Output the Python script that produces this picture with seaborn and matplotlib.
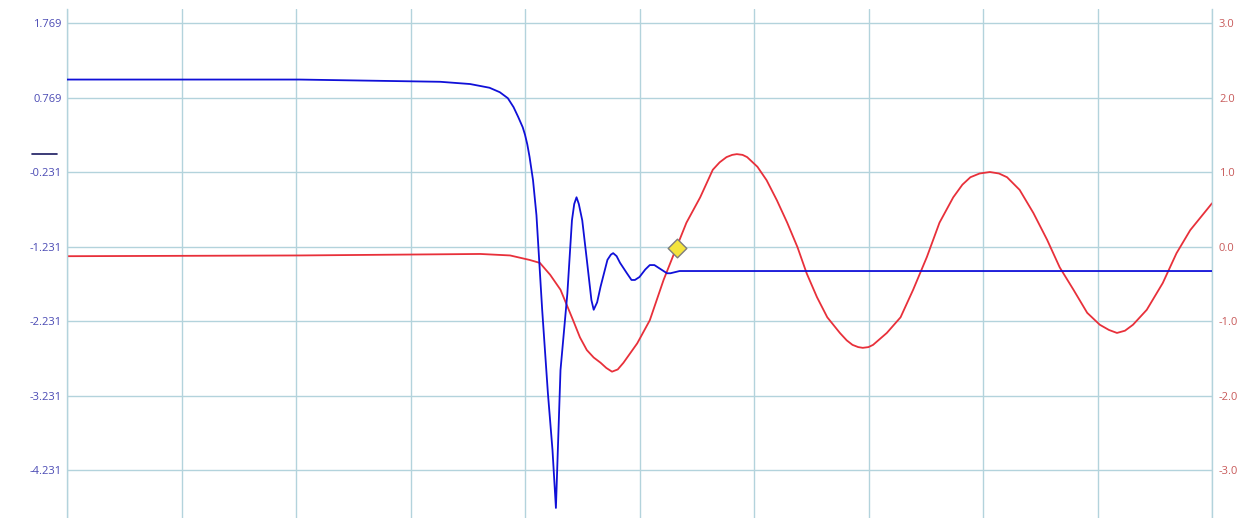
import matplotlib
matplotlib.use("Agg")
import matplotlib.pyplot as plt
from matplotlib.lines import Line2D
import seaborn as sns
import pandas as pd

# time axis in screen divisions (10 divisions across)
blue_t = [0.00, 2.03, 3.26, 3.52, 3.69, 3.78, 3.85, 3.90, 3.94, 3.98, 4.00, 4.02, 4.04, 4.07, 4.10,
          4.15, 4.20, 4.24, 4.27, 4.31, 4.37, 4.41, 4.43, 4.45, 4.47, 4.50, 4.54, 4.58, 4.60,
          4.63, 4.66, 4.72, 4.75, 4.77, 4.80, 4.83, 4.89, 4.93, 4.96, 5.00, 5.05, 5.09, 5.13,
          5.18, 5.24, 5.27, 5.35, 7.00, 10.00]
blue_v = [1.01, 1.01, 0.98, 0.95, 0.90, 0.84, 0.76, 0.64, 0.51, 0.37, 0.27, 0.14, -0.03, -0.34, -0.81,
          -2.08, -3.20, -3.96, -4.74, -2.89, -1.86, -0.88, -0.66, -0.57, -0.66, -0.88, -1.41, -1.95, -2.08,
          -1.98, -1.77, -1.41, -1.34, -1.32, -1.36, -1.45, -1.59, -1.68, -1.68, -1.64, -1.54, -1.48, -1.48,
          -1.53, -1.59, -1.59, -1.56, -1.56, -1.56]

red_t = [0.00, 2.03, 3.61, 3.87, 4.04, 4.13, 4.22, 4.31, 4.42, 4.48, 4.54, 4.60, 4.66, 4.71, 4.76,
         4.81, 4.86, 4.98, 5.09, 5.21, 5.29, 5.41, 5.53, 5.64, 5.70, 5.76, 5.81, 5.85, 5.90,
         5.94, 6.03, 6.11, 6.20, 6.29, 6.38, 6.46, 6.55, 6.64, 6.75, 6.81, 6.86, 6.91, 6.95,
         7.00, 7.04, 7.16, 7.28, 7.39, 7.51, 7.62, 7.74, 7.82, 7.89, 7.97, 8.06, 8.14, 8.21,
         8.32, 8.44, 8.56, 8.67, 8.79, 8.91, 9.02, 9.10, 9.17, 9.24, 9.31, 9.43, 9.57, 9.69,
         9.81, 10.00]
red_v = [-0.13, -0.12, -0.10, -0.12, -0.18, -0.22, -0.38, -0.58, -0.99, -1.22, -1.39, -1.49, -1.56, -1.63, -1.68,
         -1.65, -1.56, -1.30, -0.99, -0.45, -0.14, 0.32, 0.66, 1.03, 1.13, 1.20, 1.23, 1.24, 1.23,
         1.20, 1.07, 0.89, 0.62, 0.32, -0.01, -0.36, -0.68, -0.95, -1.16, -1.26, -1.32, -1.35, -1.36,
         -1.35, -1.32, -1.16, -0.95, -0.58, -0.14, 0.32, 0.66, 0.83, 0.93, 0.98, 1.00, 0.98, 0.93,
         0.76, 0.45, 0.09, -0.28, -0.58, -0.89, -1.05, -1.12, -1.16, -1.13, -1.05, -0.85, -0.49, -0.09,
         0.22, 0.58]

cursor_t = [5.33]
cursor_v = [-0.02]

left_ticks = [1.769, 0.769, -0.231, -1.231, -2.231, -3.231, -4.231]
right_ticks = [3.0, 2.0, 1.0, 0.0, -1.0, -2.0, -3.0]

sns.set_theme(style="white")
plt.rcParams['font.family'] = ['Open Sans', 'DejaVu Sans']

grid_col = "#b3d3dc"
blue = "#1010d8"
red = "#e8303a"

fig = plt.figure(figsize=(12.6, 5.18), dpi=100)
ax = fig.add_axes([67 / 1260, 0.0, (1212 - 67) / 1260, 509 / 518])
ax2 = ax.twinx()

# right axis (red) holds the grid and sits underneath
ax2.set_zorder(1)
ax.set_zorder(2)
ax.patch.set_visible(False)

red_df = pd.DataFrame({"t": red_t, "v": red_v})
blue_df = pd.DataFrame({"t": blue_t, "v": blue_v})
sns.lineplot(data=red_df, x="t", y="v", ax=ax2, color=red, lw=1.3)
sns.scatterplot(x=cursor_t, y=cursor_v, ax=ax2, marker="D", s=90,
                color="#f4e43c", edgecolor="#7d7d7d", linewidth=1.0, zorder=5)
sns.lineplot(data=blue_df, x="t", y="v", ax=ax, color=blue, lw=1.3)

r_top, r_bot = 3.188, -3.644
ax2.set_ylim(r_bot, r_top)
ax.set_ylim(r_bot - 1.231, r_top - 1.231)
ax.set_xlim(0, 10)

ax.set_yticks(left_ticks)
ax.set_yticklabels([f"{v:.3f}" for v in left_ticks])
ax2.set_yticks(right_ticks)
ax2.set_yticklabels([f"{v:.1f}" for v in right_ticks])

ax2.xaxis.set_visible(True)
ax2.set_xticks(range(0, 11))
ax2.set_xticklabels([])
ax.set_xticks(range(0, 11))
ax.set_xticklabels([])

ax.tick_params(axis="y", length=0, pad=4, labelsize=8, labelcolor="#4a4ab4")
ax2.tick_params(axis="y", length=0, pad=5, labelsize=8, labelcolor="#c85a5a")
ax.tick_params(axis="x", length=0)
ax2.tick_params(axis="x", length=0)

ax2.grid(True, axis="both", color=grid_col, lw=1.0)
ax.grid(False)

for a in (ax, ax2):
    a.set_xlabel("")
    a.set_ylabel("")
    for s in a.spines.values():
        s.set_visible(False)

# left and right frame lines in the grid colour
for side in ("left", "right"):
    ax2.spines[side].set_visible(True)
    ax2.spines[side].set_color(grid_col)
    ax2.spines[side].set_linewidth(1.0)

# small trace marker next to the left scale
fig.add_artist(Line2D([32 / 1260, 57 / 1260], [1 - 154 / 518, 1 - 154 / 518],
                      color="#1a1a60", lw=1.2))

fig.savefig("out.png", dpi=100, facecolor="white")
